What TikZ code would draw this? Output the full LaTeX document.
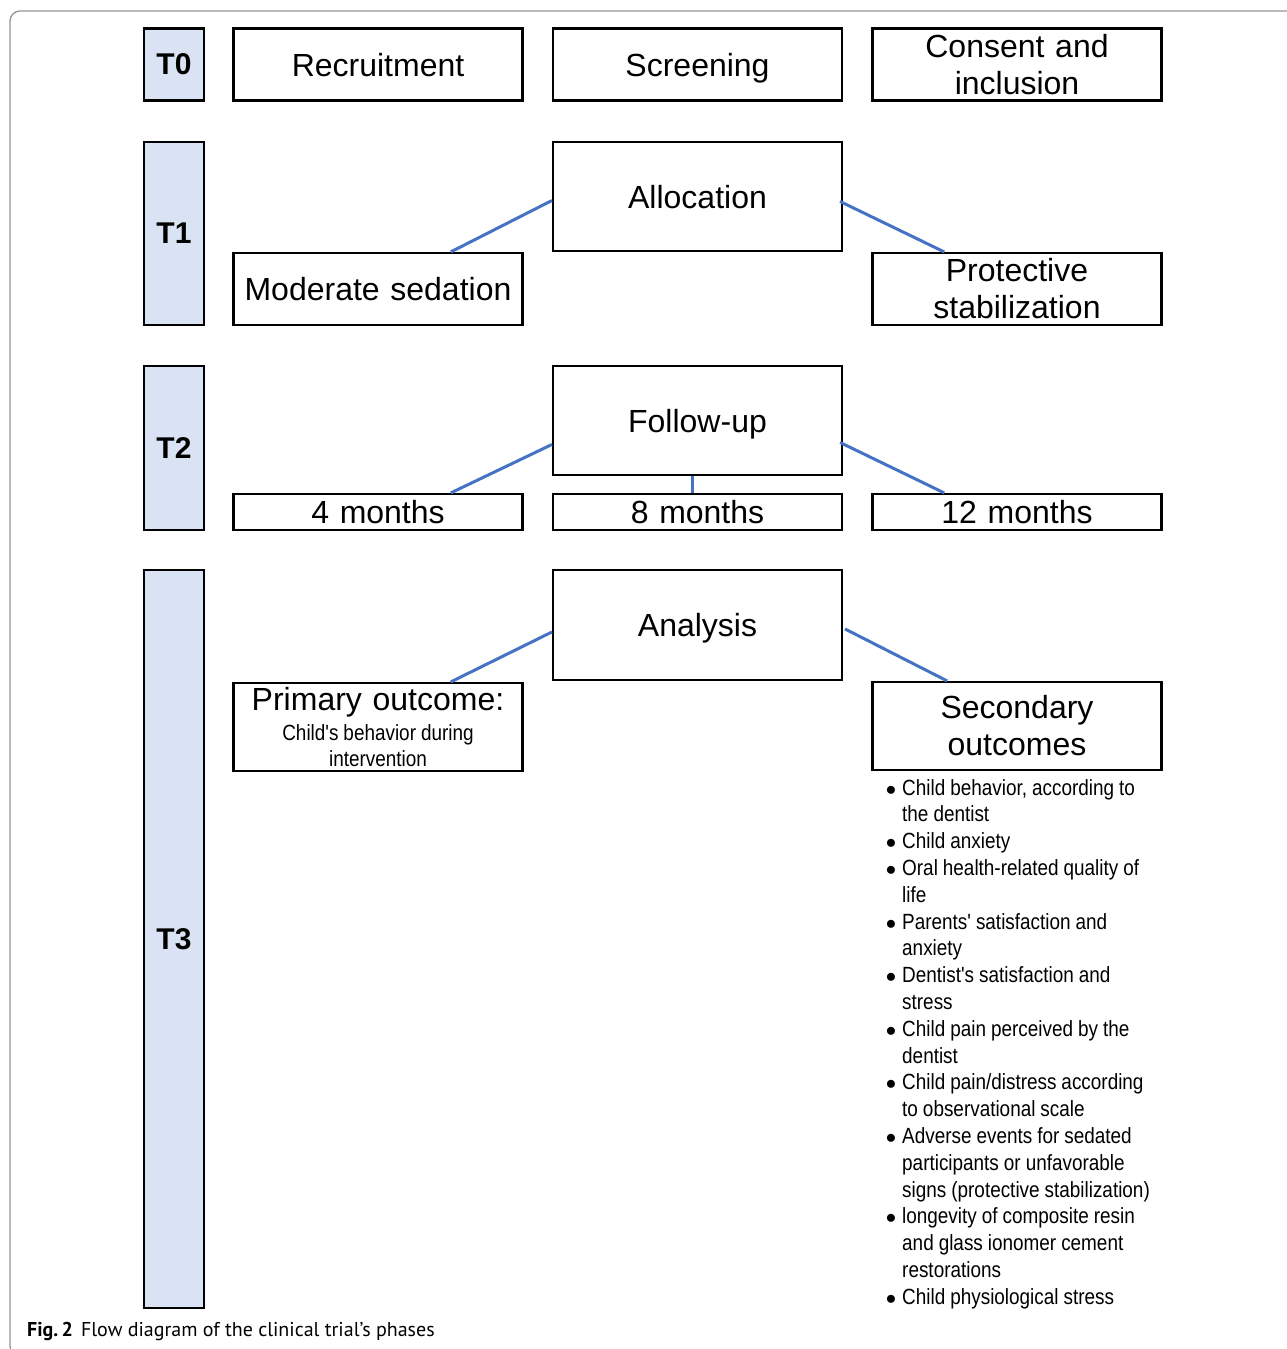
\documentclass[tikz,border=0pt]{standalone}
\usepackage{fontspec}
\setmainfont{Liberation Sans}
\newfontfamily\narrowfont[FakeStretch=0.86]{Liberation Sans}
\newfontfamily\capfont{PT Sans}
\newcommand{\listfont}{\narrowfont\fontsize{22}{26.8}\selectfont\spaceskip=5pt\relax}
\usepackage{enumitem}
\usetikzlibrary{calc}
\definecolor{phaseblue}{HTML}{DAE3F3}
\definecolor{linkblue}{HTML}{4472C4}

\begin{document}
\begin{tikzpicture}[x=1pt, y=-1pt,
		phase/.style={draw, line width=2.2pt, fill=phaseblue, minimum width=60pt, inner sep=0pt, font=\fontsize{30}{34}\selectfont\bfseries},
		stage/.style={draw, line width=2.2pt, minimum width=289pt, text width=285pt, align=center, inner sep=0pt, font=\fontsize{32}{37}\selectfont},
		oneline/.style={stage, text height=23pt, text depth=0pt},
		link/.style={linkblue, line width=3pt}]
				\useasboundingbox (0,0) rectangle (1287,1349);
				\begin{scope}
					\clip (0,0) rectangle (1287,1349);
					\draw[gray!85, line width=1.3pt, rounded corners=10pt] (10,11) rectangle (1310,1356);
				\end{scope}
				
				% T0
				\node[phase, minimum height=72pt] (t0) at (174,64.5) {T0};
				\node[oneline, minimum height=72pt] (recruit) at (378,64.5) {Recruitment};
				\node[oneline, minimum height=72pt] (screen) at (697.5,64.5) {Screening};
				\node[stage, minimum height=72pt] (consent) at (1017,64.5) {Consent and\\inclusion};
				
				% T1
				\node[phase, minimum height=183pt] (t1) at (174,233.5) {T1};
				\node[oneline, minimum height=109pt] (alloc) at (697.5,196.5) {Allocation};
				\node[oneline, minimum height=72pt] (modsed) at (378,289) {Moderate sedation};
				\node[stage, minimum height=72pt] (protect) at (1017,289) {Protective\\stabilization};
				\draw[link] ([yshift=-4pt]alloc.west) -- ($(modsed.north west)!0.75!(modsed.north east)$);
				\draw[link] ([xshift=-3pt, yshift=-5pt]alloc.east) -- ($(protect.north west)!0.25!(protect.north east)$);
				
				% T2
				\node[phase, minimum height=164pt] (t2) at (174,448) {T2};
				\node[oneline, minimum height=109pt] (fup) at (697.5,420.5) {Follow-up};
				\node[oneline, minimum height=36pt] (m4) at (378,512) {4 months};
				\node[oneline, minimum height=36pt] (m8) at (697.5,512) {8 months};
				\node[oneline, minimum height=36pt] (m12) at (1017,512) {12 months};
				\draw[link] ([yshift=-24pt]fup.west) -- ($(m4.north west)!0.75!(m4.north east)$);
				\draw[link] ([xshift=-3pt, yshift=-22pt]fup.east) -- ($(m12.north west)!0.25!(m12.north east)$);
				\draw[link] ([xshift=-5pt]fup.south) -- ([xshift=-5pt]m8.north);
				
				% T3
				\node[phase, minimum height=738pt] (t3) at (174,939) {T3};
				\node[oneline, minimum height=110pt] (analysis) at (697.5,625) {Analysis};
				\node[stage, minimum height=88pt] (primary) at (378,727) {Primary outcome:\par\vspace{4pt}{\listfont\fontsize{22}{26}\selectfont Child's behavior during\\intervention\par}};
				\node[stage, minimum height=88pt] (secondary) at (1017,726) {Secondary\\outcomes};
				\draw[link] ([yshift=-7pt]analysis.west) -- ($(primary.north west)!0.75!(primary.north east)$);
				\draw[link] ([xshift=2pt, yshift=-4pt]analysis.east) -- ($(secondary.north west)!0.26!(secondary.north east)$);
				
				\node[anchor=north west, inner sep=0pt, text width=290pt] (seclist) at (884,768) {\listfont
					\begin{itemize}[leftmargin=18pt, labelsep=6pt, itemsep=0pt, topsep=0pt, parsep=0pt, partopsep=0pt, label=$\bullet$]
						\item Child behavior, according to\newline the dentist
						\item Child anxiety
						\item Oral health-related quality of\newline life
						\item Parents' satisfaction and\newline anxiety
						\item Dentist's satisfaction and\newline stress
						\item Child pain perceived by the\newline dentist
						\item Child pain/distress according\newline to observational scale
						\item Adverse events for sedated\newline participants or unfavorable\newline signs (protective stabilization)
						\item longevity of composite resin\newline and glass ionomer cement\newline restorations
						\item Child physiological stress
					\end{itemize}};
				
				\node[anchor=base west, inner sep=0pt, font=\capfont\fontsize{20}{23}\selectfont] (caption) at (27,1336) {\textbf{Fig.\,2}\hspace{8pt}Flow diagram of the clinical trial’s phases};
			\end{tikzpicture}
\end{document}
